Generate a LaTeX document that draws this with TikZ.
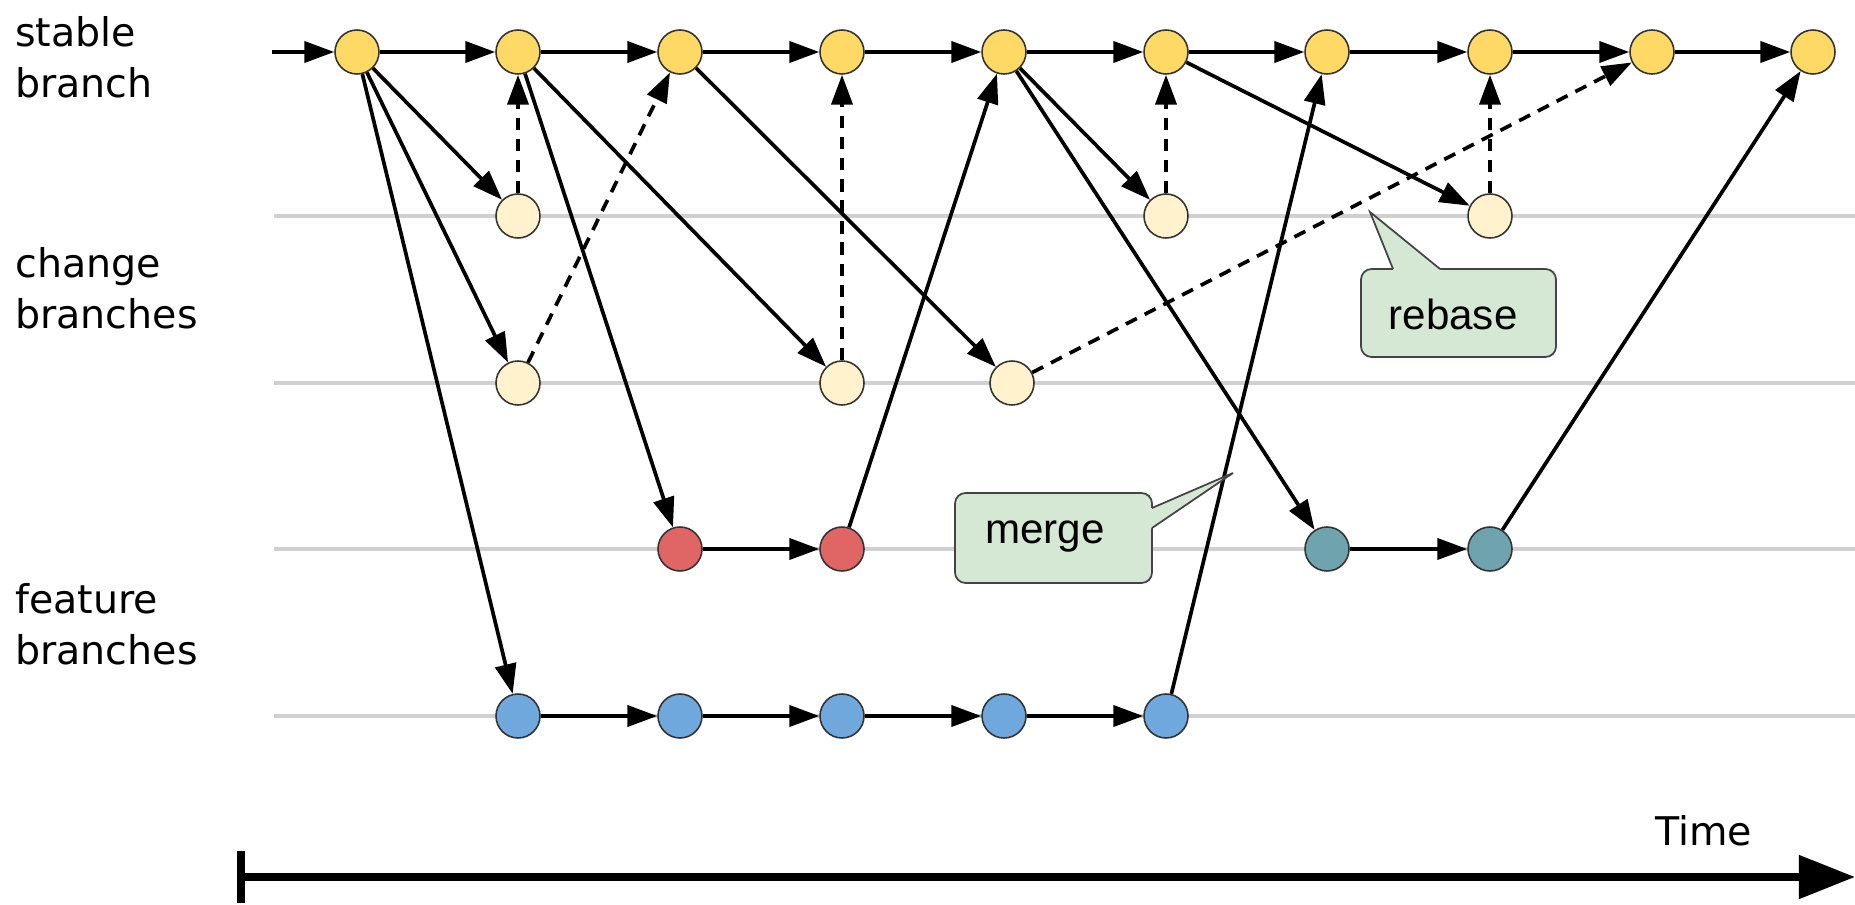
\documentclass[tikz,border=0pt]{standalone}
\usepackage{fontspec}
\setmainfont{Liberation Sans}
\newfontfamily\handfont{DejaVu Sans}
\usetikzlibrary{arrows.meta}
\definecolor{stableyel}{HTML}{FFD966}
\definecolor{changeyel}{HTML}{FFF2CC}
\definecolor{featred}{HTML}{E06666}
\definecolor{featteal}{HTML}{6FA3AD}
\definecolor{featblue}{HTML}{6FA8DC}
\definecolor{nodeline}{HTML}{333333}
\definecolor{lanegray}{HTML}{D0D0D0}
\definecolor{calloutfill}{HTML}{D5E8D4}
\definecolor{calloutline}{HTML}{444444}
\tikzset{>={Triangle[length=17pt,width=12pt]}}
\tikzset{
  commit/.style={circle, draw=nodeline, line width=0.9pt, minimum size=0.88cm, inner sep=0pt},
  stable/.style={commit, fill=stableyel},
  change/.style={commit, fill=changeyel},
  redfeat/.style={commit, fill=featred},
  tealfeat/.style={commit, fill=featteal},
  bluefeat/.style={commit, fill=featblue},
  link/.style={->, line width=2.1pt},
  rebased/.style={link, dash pattern=on 7pt off 5pt},
  lane/.style={line width=1.9pt, lanegray},
  lbl/.style={font=\handfont\fontsize{22.5}{29}\selectfont, align=left, inner sep=0pt},
  callout/.style={fill=calloutfill, draw=calloutline, line width=1pt, rounded corners=6pt},
  callouttail/.style={draw=calloutline, line width=1pt, line join=miter},
  callouttxt/.style={font=\fontsize{24}{28}\selectfont, inner sep=0pt},
  timeline/.style={{Bar[width=30pt]}-{Triangle[length=32pt,width=24pt]}, line width=4.5pt}
}

\begin{document}
\begin{tikzpicture}[x=0.02cm, y=-0.02cm]
  \useasboundingbox (0,0) rectangle (1855,905);

  % lanes
  \foreach \y in {216,383,549,716}
    \draw[lane] (274,\y) -- (1855,\y);

  % labels
  \node[lbl, anchor=west] (lblstable) at (15,57) {stable\\branch};
  \node[lbl, anchor=west] (lblchange) at (15,288) {change\\branches};
  \node[lbl, anchor=west] (lblfeature) at (15,624) {feature\\branches};

  % stable branch
  \foreach \i/\x in {0/357,1/518,2/680,3/842,4/1004,5/1166,6/1327,7/1490,8/1652,9/1813}
    \node[stable] (st\i) at (\x,52) {};

  % change branches
  \node[change] (chA1) at (518,216) {};
  \node[change] (chA5) at (1166,216) {};
  \node[change] (chA7) at (1490,216) {};
  \node[change] (chB1) at (518,383) {};
  \node[change] (chB3) at (842,383) {};
  \node[change] (chB4) at (1012,383) {};

  % feature branches
  \node[redfeat] (ftR2) at (680,549) {};
  \node[redfeat] (ftR3) at (842,549) {};
  \node[tealfeat] (ftT6) at (1327,549) {};
  \node[tealfeat] (ftT7) at (1490,549) {};
  \foreach \i/\x in {1/518,2/680,3/842,4/1004,5/1166}
    \node[bluefeat] (ftB\i) at (\x,716) {};

  % stable history
  \coordinate (in) at (272,52);
  \draw[link] (in) -- (st0);
  \foreach \i [count=\j from 1] in {0,...,8}
    \draw[link] (st\i) -- (st\j);

  % branching off
  \draw[link] (st0) -- (chA1);
  \draw[link] (st0) -- (chB1);
  \draw[link] (st0) -- (ftB1);
  \draw[link] (st1) -- (chB3);
  \draw[link] (st1) -- (ftR2);
  \draw[link] (st2) -- (chB4);
  \draw[link] (st4) -- (chA5);
  \draw[link] (st4) -- (ftT6);
  \draw[link] (st5) -- (chA7);

  % feature work
  \draw[link] (ftR2) -- (ftR3);
  \draw[link] (ftT6) -- (ftT7);
  \foreach \i [count=\j from 2] in {1,...,4}
    \draw[link] (ftB\i) -- (ftB\j);

  % back onto stable
  \draw[rebased] (chA1) -- (st1);
  \draw[rebased] (chB1) -- (st2);
  \draw[rebased] (chB3) -- (st3);
  \draw[rebased] (chA5) -- (st5);
  \draw[rebased] (chA7) -- (st7);
  \draw[rebased] (chB4) -- (st8);
  \draw[link] (ftR3) -- (st4);
  \draw[link] (ftB5) -- (st6);
  \draw[link] (ftT7) -- (st9);

  % callouts
  \draw[callout] (1361,269) rectangle (1556,357);
  \fill[calloutfill] (1393,272) -- (1393,269) -- (1370,212) -- (1440,269) -- (1440,272) -- cycle;
  \draw[callouttail] (1393,269) -- (1370,212) -- (1440,269);
  \node[callouttxt] (rebasetxt) at (1453,314) {rebase};
  \draw[callout] (955,493) rectangle (1152,583);
  \fill[calloutfill] (1149,508) -- (1152,508) -- (1233,473) -- (1152,528) -- (1149,528) -- cycle;
  \draw[callouttail] (1152,508) -- (1233,473) -- (1152,528);
  \node[callouttxt] (mergetxt) at (1045,537) {merge};

  % time axis
  \coordinate (t0) at (237,877);
  \coordinate (t1) at (1855,877);
  \draw[timeline] (t0) -- (t1);
  \node[lbl, anchor=base west] (lbltime) at (1655,845) {Time};
\end{tikzpicture}
\end{document}
